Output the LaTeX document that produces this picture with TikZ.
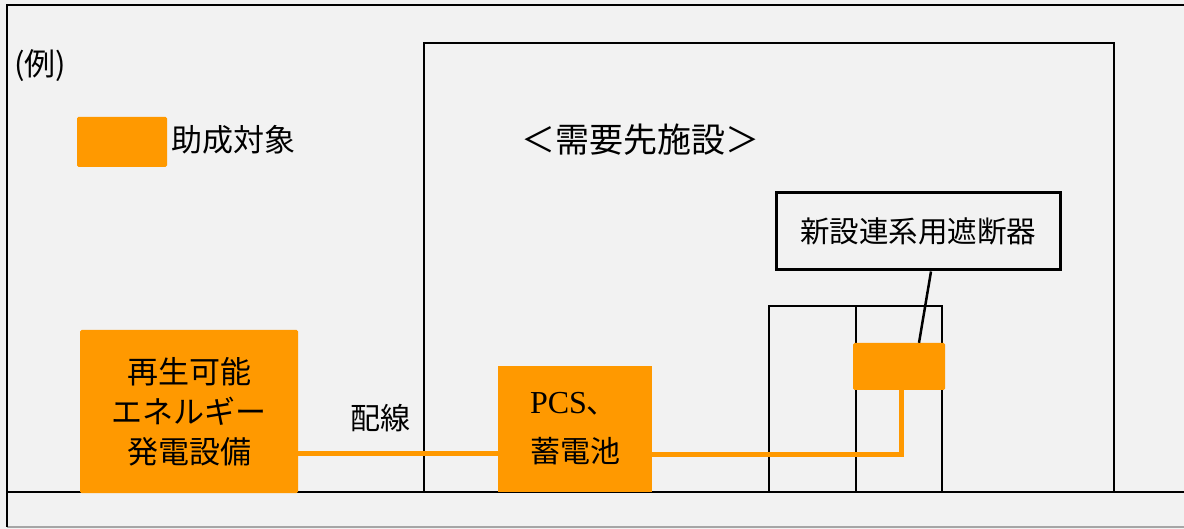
\documentclass[tikz,border=0pt]{standalone}
\usepackage{fontspec}
\setmainfont{Noto Sans CJK JP}
\newfontfamily\pcsfont{Liberation Serif}
\usetikzlibrary{calc}
\definecolor{bg}{HTML}{F2F2F2}
\definecolor{subsidy}{HTML}{FF9900}
\tikzset{
  frameline/.style={draw=black, line width=2.5pt},
  thinline/.style={draw=black, line width=1.8pt},
  orangebox/.style={fill=subsidy, draw=none, rounded corners=1.5pt, inner sep=0pt},
  wire/.style={draw=subsidy, line width=5pt},
  jp/.style={font=\fontsize{31}{40}\selectfont, inner sep=0pt},
}
\begin{document}
\begin{tikzpicture}[x=1pt,y=-1pt]
\useasboundingbox (0,0) rectangle (1184,529);
\fill[bg] (0,0) rectangle (1184,529);
% outer frame
\draw[draw=gray!70, line width=2pt] (7,527) -- (1184,527);
\draw[frameline] (1184,5) -- (7,5) -- (7,527);
% ground
\draw[frameline] (7,492) -- (1184,492);
% building
\draw[thinline] (424,492) -- (424,43) -- (1114,43) -- (1114,492);
% panel
\draw[thinline] (769,492) -- (769,306) -- (942,306) -- (942,492);
\draw[thinline] (856,306) -- (856,492);

% legend
\node[orangebox, minimum width=90pt, minimum height=50pt] (leg) at (122,142) {};
\node[jp, anchor=west] (legtext) at (171,140) {助成対象};
\node[jp, anchor=west, font=\fontsize{31}{36}\selectfont] (rei) at (14,66) {(例)};
\node[jp, font=\fontsize{34}{40}\selectfont] (bldg) at (640,140) {＜需要先施設＞};

% equipment
\node[orangebox, minimum width=218pt, minimum height=163pt, align=center, font=\fontsize{31}{40}\selectfont] (re) at (189,411.5) {再生可能\\エネルギー\\発電設備};
\node[orangebox, rounded corners=0pt, minimum width=154pt, minimum height=126pt, align=left, font=\fontsize{30}{49}\selectfont] (pcs) at (575,429) {{\pcsfont\fontsize{32}{49}\selectfont PCS}、\\蓄電池};
\node[orangebox, minimum width=92pt, minimum height=47pt] (brk) at (899,366.5) {};
\node[draw=black, line width=3pt, minimum width=284pt, minimum height=77pt, inner sep=0pt, font=\fontsize{29.5}{40}\selectfont] (lbl) at (918,231.5) {新設連系用遮断器};
\node[jp, font=\fontsize{30}{40}\selectfont] (wirelbl) at (380,418) {配線};

% connectors
\draw[wire] ([yshift=-41.5pt]re.east) -- ([yshift=-41.5pt]re.east -| pcs.west);
\draw[wire] ([yshift=-25pt]pcs.east) -| ([xshift=2pt]brk.south);
\draw[line width=2.5pt] ([xshift=13pt]lbl.south) -- ([xshift=20pt]brk.north);
\end{tikzpicture}
\end{document}
